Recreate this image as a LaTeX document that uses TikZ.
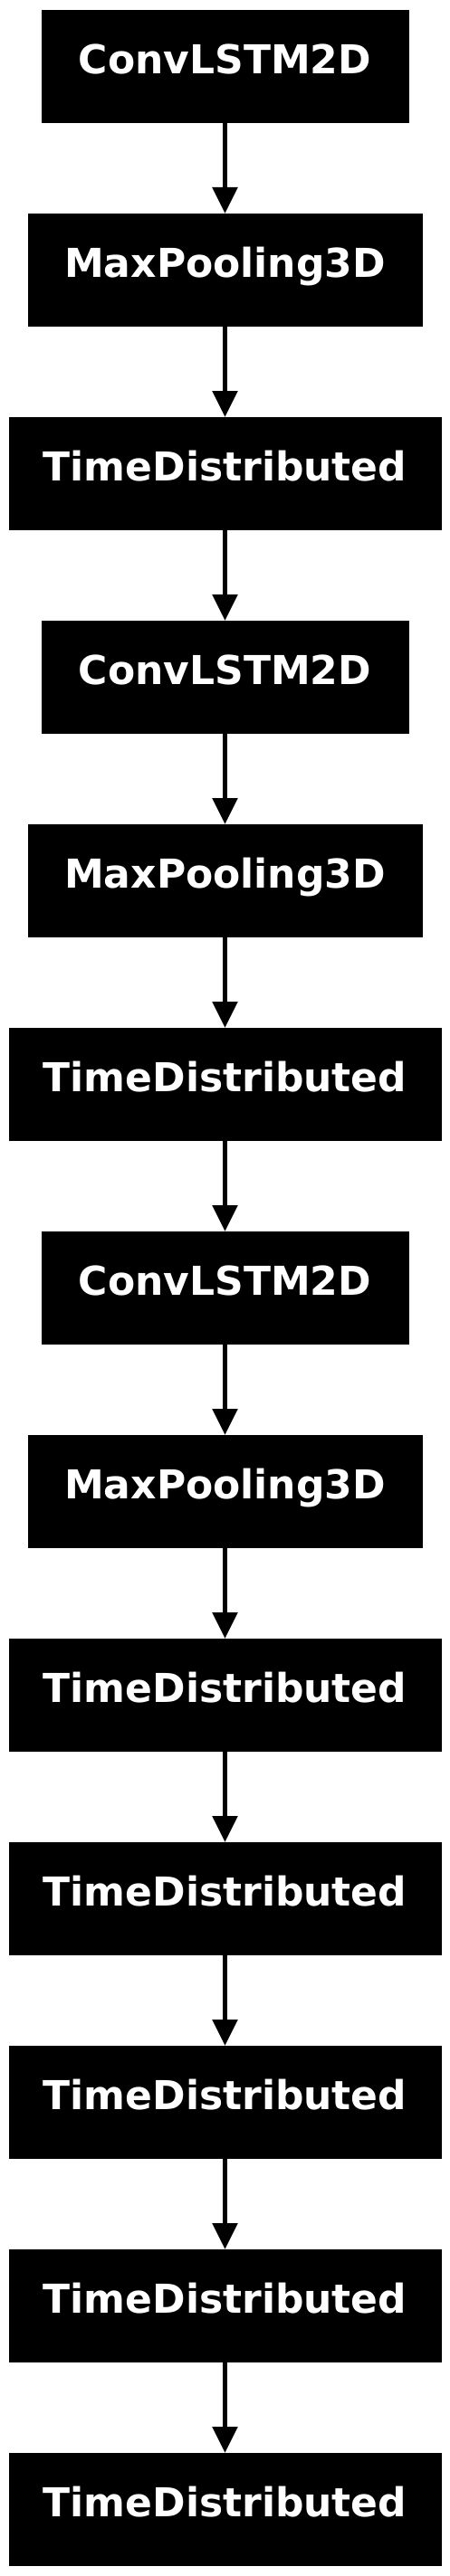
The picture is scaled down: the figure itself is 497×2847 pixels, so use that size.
\documentclass[tikz,border=0pt]{standalone}
\usepackage{fontspec}
\setmainfont{DejaVu Sans}
\usetikzlibrary{arrows.meta}
\begin{document}
\begin{tikzpicture}[x=1pt,y=-1pt,
  layer/.style={rectangle, fill=black, text=white, inner sep=0pt,
    minimum height=125pt, anchor=north,
    font=\fontsize{44}{52}\selectfont\bfseries,
    text height=15pt, text depth=0pt},
  conv/.style={layer, minimum width=406pt},
  pool/.style={layer, minimum width=436pt},
  tdist/.style={layer, minimum width=478pt},
  link/.style={line width=5.5pt, -{Triangle[width=27pt,length=29pt]}}]
\useasboundingbox (0,0) rectangle (497,2847);
\node[conv]  (n1)  at (248.5,11)   {ConvLSTM2D};
\node[pool]  (n2)  at (248.5,236)  {MaxPooling3D};
\node[tdist] (n3)  at (248.5,461)  {TimeDistributed};
\node[conv]  (n4)  at (248.5,686)  {ConvLSTM2D};
\node[pool]  (n5)  at (248.5,911)  {MaxPooling3D};
\node[tdist] (n6)  at (248.5,1136) {TimeDistributed};
\node[conv]  (n7)  at (248.5,1361) {ConvLSTM2D};
\node[pool]  (n8)  at (248.5,1586) {MaxPooling3D};
\node[tdist] (n9)  at (248.5,1811) {TimeDistributed};
\node[tdist] (n10) at (248.5,2036) {TimeDistributed};
\node[tdist] (n11) at (248.5,2261) {TimeDistributed};
\node[tdist] (n12) at (248.5,2486) {TimeDistributed};
\node[tdist] (n13) at (248.5,2711) {TimeDistributed};
\foreach \a/\b in {n1/n2,n2/n3,n3/n4,n4/n5,n5/n6,n6/n7,n7/n8,n8/n9,n9/n10,n10/n11,n11/n12,n12/n13}
  \draw[link] (\a.south) -- (\b.north);
\end{tikzpicture}
\end{document}
